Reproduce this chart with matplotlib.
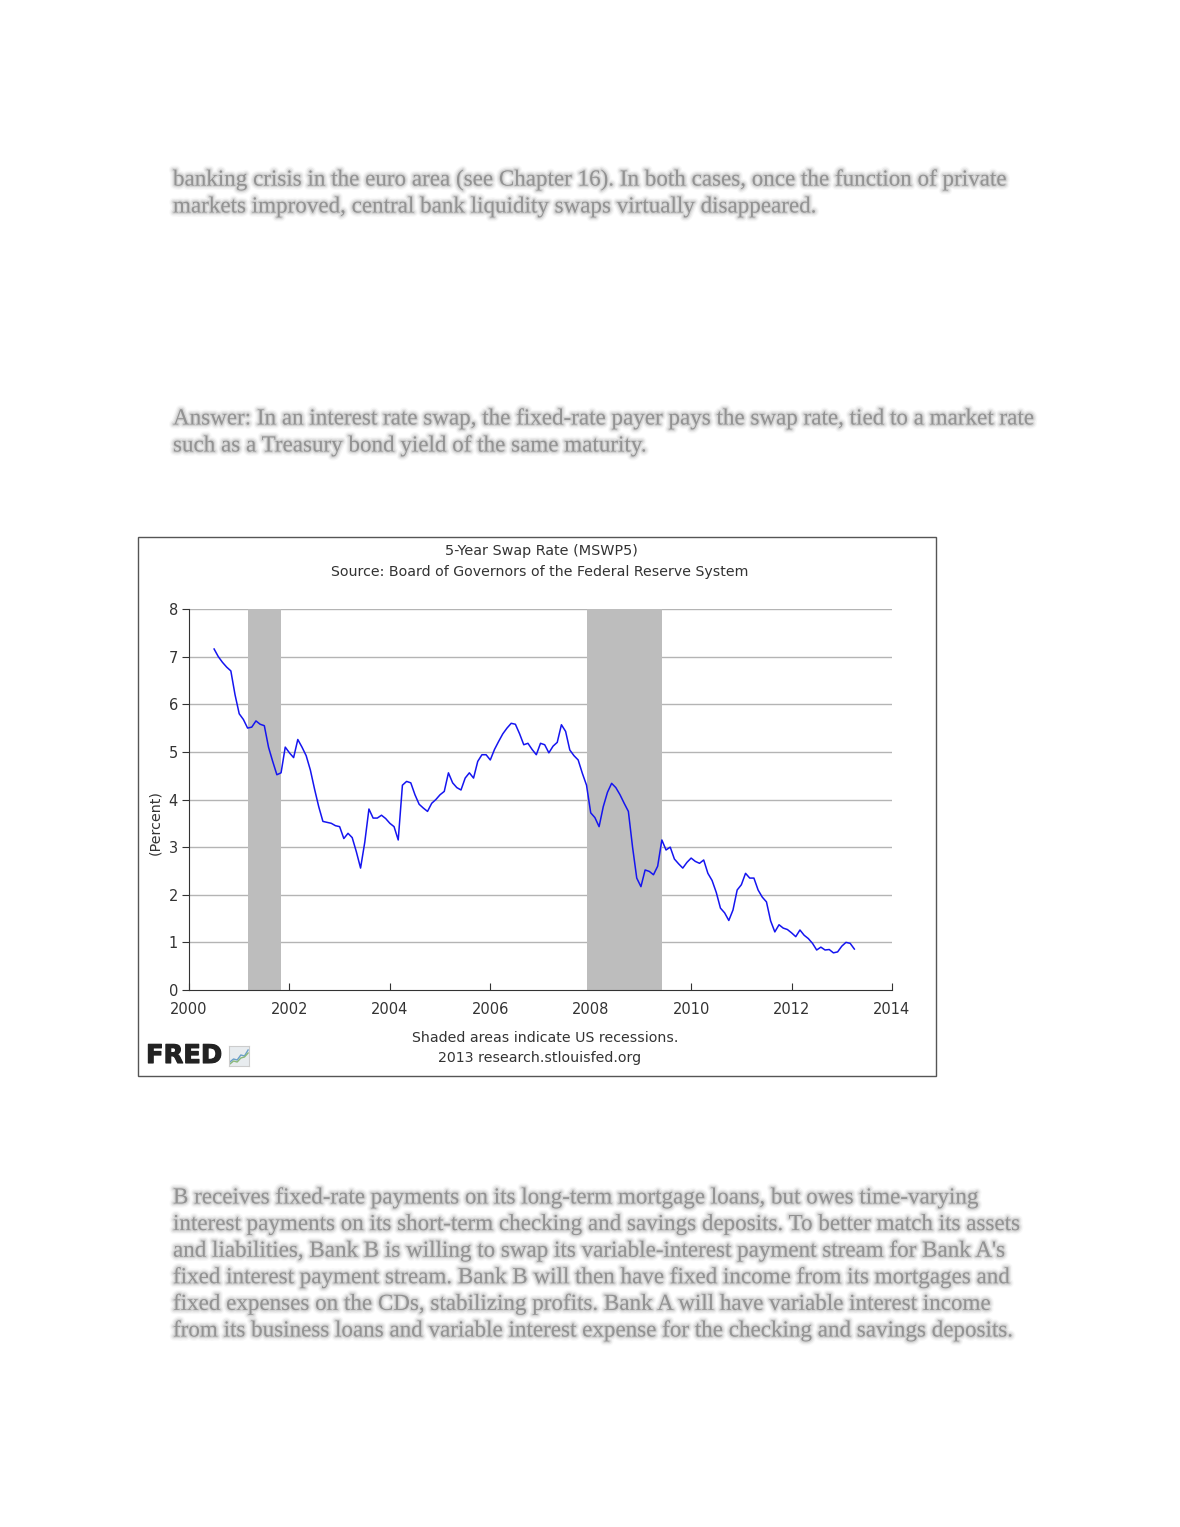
"""
FRED chart: 5-Year Swap Rate (MSWP5) embedded in a text page
"""

import numpy as np
import matplotlib.pyplot as plt
import matplotlib.patheffects as pe
from matplotlib.patches import Rectangle

#Monthly values, Jul 2000 - Apr 2013 (percent)
rate_2000 = [7.16, 7.00, 6.88, 6.78, 6.70, 6.20]
rate_2001 = [5.80, 5.68, 5.50, 5.52, 5.65, 5.58, 5.55, 5.10, 4.80, 4.52, 4.56, 5.10]
rate_2002 = [4.98, 4.88, 5.26, 5.10, 4.92, 4.62, 4.22, 3.85, 3.54, 3.52, 3.50, 3.45]
rate_2003 = [3.43, 3.18, 3.29, 3.20, 2.90, 2.56, 3.10, 3.80, 3.61, 3.61, 3.67, 3.60]
rate_2004 = [3.50, 3.43, 3.15, 4.30, 4.38, 4.35, 4.10, 3.90, 3.82, 3.75, 3.92, 4.00]
rate_2005 = [4.10, 4.17, 4.56, 4.35, 4.25, 4.20, 4.45, 4.56, 4.45, 4.80, 4.94, 4.94]
rate_2006 = [4.83, 5.05, 5.22, 5.38, 5.50, 5.60, 5.58, 5.38, 5.15, 5.18, 5.05, 4.94]
rate_2007 = [5.18, 5.15, 4.98, 5.12, 5.20, 5.57, 5.43, 5.04, 4.92, 4.83, 4.55, 4.30]
rate_2008 = [3.72, 3.62, 3.43, 3.85, 4.15, 4.34, 4.25, 4.10, 3.92, 3.75, 3.00, 2.35]
rate_2009 = [2.17, 2.52, 2.49, 2.42, 2.60, 3.15, 2.94, 3.00, 2.75, 2.65, 2.56, 2.68]
rate_2010 = [2.77, 2.70, 2.66, 2.73, 2.45, 2.30, 2.05, 1.72, 1.62, 1.46, 1.68, 2.10]
rate_2011 = [2.21, 2.45, 2.35, 2.35, 2.10, 1.95, 1.85, 1.45, 1.22, 1.37, 1.30, 1.27]
rate_2012 = [1.20, 1.12, 1.26, 1.15, 1.08, 0.98, 0.84, 0.90, 0.84, 0.85, 0.78, 0.80]
rate_2013 = [0.92, 1.00, 0.98, 0.86]

rates = np.array(rate_2000 + rate_2001 + rate_2002 + rate_2003 + rate_2004 +
                 rate_2005 + rate_2006 + rate_2007 + rate_2008 + rate_2009 +
                 rate_2010 + rate_2011 + rate_2012 + rate_2013)
#Decimal years, first month is July 2000
dates = 2000 + (6 + np.arange(len(rates))) / 12.0

#Recessions (start, end) in decimal years
rec_start = [2001 + 2/12, 2007 + 11/12]
rec_end = [2001 + 10/12, 2009 + 5/12]

x_ticks = [2000, 2002, 2004, 2006, 2008, 2010, 2012, 2014]
y_ticks = [0, 1, 2, 3, 4, 5, 6, 7, 8]

#Page text around the chart
para_top = ["banking crisis in the euro area (see Chapter 16). In both cases, once the function of private",
            "markets improved, central bank liquidity swaps virtually disappeared."]
para_mid = ["Answer: In an interest rate swap, the fixed-rate payer pays the swap rate, tied to a market rate",
            "such as a Treasury bond yield of the same maturity."]
para_bot = ["B receives fixed-rate payments on its long-term mortgage loans, but owes time-varying",
            "interest payments on its short-term checking and savings deposits. To better match its assets",
            "and liabilities, Bank B is willing to swap its variable-interest payment stream for Bank A's",
            "fixed interest payment stream. Bank B will then have fixed income from its mortgages and",
            "fixed expenses on the CDs, stabilizing profits. Bank A will have variable interest income",
            "from its business loans and variable interest expense for the checking and savings deposits."]

W, H = 1180, 1527
fig = plt.figure(figsize=(W / 100, H / 100), dpi=100)
fig.patch.set_facecolor('white')

#Blurred page text: soft strokes around one text per line
soft = [pe.Stroke(linewidth=6, foreground='#9a9a9a', alpha=0.07),
        pe.Stroke(linewidth=4, foreground='#8a8a8a', alpha=0.12),
        pe.Stroke(linewidth=2, foreground='#808080', alpha=0.2),
        pe.Normal()]

def blurry(lines, y0, step):
    for i, line in enumerate(lines):
        fig.text(173 / W, 1 - (y0 + i * step) / H, line, fontsize=16.6,
                 family='Liberation Serif', color='#777777', alpha=0.55,
                 va='center', ha='left', path_effects=soft)

blurry(para_top, 180, 27)
blurry(para_mid, 419, 27)
blurry(para_bot, 1198, 26.6)

#Chart frame
fig.patches.append(Rectangle((138 / W, 1 - 1076 / H), (936 - 138) / W, (1076 - 537) / H,
                             transform=fig.transFigure, fill=False,
                             edgecolor='#555555', linewidth=1))

ax = fig.add_axes([189 / W, 1 - 990 / H, (892 - 189) / W, (990 - 609) / H])
ax.set_xlim(2000, 2014)
ax.set_ylim(0, 8)

for s, e in zip(rec_start, rec_end):
    ax.axvspan(s, e, color='#bdbdbd', zorder=2, linewidth=0)

for y in y_ticks[1:]:
    ax.axhline(y, color='#b4b4b4', linewidth=1, zorder=1)

ax.plot(dates, rates, color='#1515f0', linewidth=1.1, zorder=3)

ax.spines['top'].set_visible(False)
ax.spines['right'].set_visible(False)
ax.spines['left'].set_color('#333333')
ax.spines['bottom'].set_color('#333333')
ax.set_xticks(x_ticks)
ax.set_yticks(y_ticks)
ax.tick_params(axis='x', direction='in', length=5, labelsize=10.5, colors='#333333', pad=9)
ax.tick_params(axis='y', direction='out', length=5, labelsize=10.5, colors='#333333', pad=3)
ax.set_ylabel('(Percent)', fontsize=10.3, color='#333333')
ax.yaxis.set_label_coords(-0.038, 0.44)

#Titles and notes
fig.text(541 / W, 1 - 551 / H, '5-Year Swap Rate (MSWP5)', fontsize=10.4,
         color='#333333', ha='center', va='center')
fig.text(540 / W, 1 - 572 / H, 'Source: Board of Governors of the Federal Reserve System',
         fontsize=10.2, color='#333333', ha='center', va='center')
fig.text(545 / W, 1 - 1038 / H, 'Shaded areas indicate US recessions.', fontsize=10.2,
         color='#333333', ha='center', va='center')
fig.text(540 / W, 1 - 1058 / H, '2013 research.stlouisfed.org', fontsize=10.2,
         color='#333333', ha='center', va='center')

#FRED logo
fig.text(146 / W, 1 - 1056 / H, 'FRED', fontsize=18.5, fontweight='bold',
         color='#222222', ha='left', va='center',
         path_effects=[pe.withStroke(linewidth=0.8, foreground='#222222')])
logo_a = [0.2, 0.35, 0.3, 0.55, 0.5, 0.8]
logo_b = [0.1, 0.25, 0.2, 0.4, 0.45, 0.65]
icon = fig.add_axes([229 / W, 1 - 1066 / H, 20 / W, 20 / H])
icon.set_facecolor('#e8ecef')
icon.plot(logo_a, color='#6a9fc9', linewidth=1)
icon.plot(logo_b, color='#8ab87a', linewidth=1)
icon.set_ylim(0, 1)
icon.set_xticks([])
icon.set_yticks([])
for sp in icon.spines.values():
    sp.set_color('#cccccc')

plt.savefig('out.png', dpi=100)
